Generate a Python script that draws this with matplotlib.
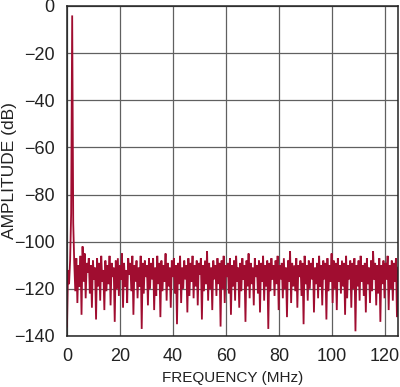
import numpy as np
import matplotlib
matplotlib.use("Agg")
import matplotlib.pyplot as plt

# Spectrum amplitude (dB), uniformly spaced bins 0..125 MHz
amplitude_db = [
    -136, -112, -118, -108, -88, -4, -92, -109, -121, -107, -126, -110, -119, -106, -131, -102, -117, -105, -124, -109,
    -113, -107, -122, -110, -128, -108, -116, -111, -133, -107, -119, -109, -125, -106, -117, -112, -129, -108, -121, -110,
    -118, -106, -127, -109, -115, -111, -134, -108, -120, -107, -123, -110, -116, -105, -128, -109, -119, -112, -126, -107,
    -114, -109, -121, -106, -131, -110, -117, -108, -124, -111, -119, -106, -137, -109, -122, -108, -115, -110, -127, -107,
    -120, -109, -116, -107, -129, -111, -123, -106, -118, -109, -132, -108, -121, -110, -117, -105, -125, -109, -119, -111,
    -128, -108, -115, -107, -122, -110, -135, -109, -118, -106, -126, -111, -120, -108, -116, -110, -130, -107, -123, -109,
    -117, -106, -124, -110, -119, -108, -127, -109, -114, -107, -133, -110, -121, -108, -118, -104, -125, -109, -120, -111,
    -129, -108, -116, -110, -123, -107, -118, -109, -136, -108, -120, -106, -126, -110, -115, -109, -122, -107, -131, -110,
    -119, -108, -125, -106, -117, -111, -128, -109, -121, -107, -116, -110, -134, -108, -119, -105, -124, -109, -118, -111,
    -127, -107, -115, -110, -122, -108, -130, -109, -117, -106, -125, -110, -119, -108, -137, -109, -121, -107, -116, -110,
    -123, -108, -118, -106, -129, -110, -116, -109, -124, -107, -120, -111, -132, -108, -117, -104, -126, -109, -119, -110,
    -121, -107, -128, -110, -115, -108, -123, -109, -135, -106, -118, -110, -125, -108, -120, -109, -116, -107, -130, -111,
    -118, -109, -124, -106, -119, -110, -127, -108, -116, -109, -133, -107, -121, -110, -117, -105, -126, -108, -120, -109,
    -129, -107, -117, -110, -122, -108, -119, -109, -131, -106, -124, -110, -116, -108, -128, -109, -120, -107, -138, -110,
    -119, -108, -125, -106, -117, -110, -123, -109, -130, -107, -118, -111, -126, -108, -121, -104, -116, -109, -127, -110,
    -122, -107, -134, -110, -118, -108, -124, -109, -116, -106, -129, -110, -120, -108, -125, -109, -117, -107, -132, -111,
]
freq_start_mhz = 0.0
freq_stop_mhz = 125.0
x_ticks = [0, 20, 40, 60, 80, 100, 120]
y_ticks = [0, -20, -40, -60, -80, -100, -120, -140]

freq_mhz = np.linspace(freq_start_mhz, freq_stop_mhz, len(amplitude_db))

plt.rcParams['font.family'] = ['Liberation Sans', 'DejaVu Sans']

fig = plt.figure(figsize=(4.0, 3.87), dpi=100)
ax = fig.add_axes([0.1675, 0.1318, 0.8275, 0.8527])

ax.plot(freq_mhz, amplitude_db, color='#a00d30', lw=1.3, solid_joinstyle='miter')

ax.set_xlim(0, 125)
ax.set_ylim(-140, 0)
ax.set_xticks(x_ticks)
ax.set_yticks(y_ticks)
ax.set_yticklabels(['0' if v == 0 else '\u2212' + str(abs(v)) for v in y_ticks])
ax.grid(True, color='#606060', lw=0.9)
ax.set_axisbelow(True)
ax.tick_params(length=0, pad=9, labelsize=13, colors='#222222')
for s in ax.spines.values():
    s.set_color('#222222')
    s.set_linewidth(1.1)

ax.set_xlabel('FREQUENCY (MHz)', fontsize=11, color='#222222')
ax.set_ylabel('AMPLITUDE (dB)', fontsize=12.5, color='#222222')
ax.xaxis.set_label_coords(0.5, -0.105)
ax.yaxis.set_label_coords(-0.151, 0.5)

fig.savefig('out.png', dpi=100)
